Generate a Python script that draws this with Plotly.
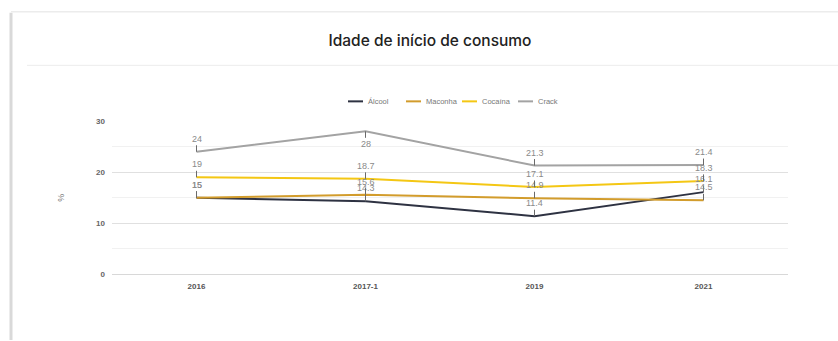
import plotly.graph_objects as go

# ---- data ----
categories = ["2016", "2017-1", "2019", "2021"]
series_names = ["Álcool", "Maconha", "Cocaína", "Crack"]
alcool = [15, 14.3, 11.4, 16.1]
maconha = [15, 15.6, 14.9, 14.5]
cocaina = [19, 18.7, 17.1, 18.3]
crack = [24, 28, 21.3, 21.4]
y_ticks = [0, 10, 20, 30]
title_text = "Idade de início de consumo"
y_title = "%"

series_values = [alcool, maconha, cocaina, crack]
colors = ["#2e3242", "#d29c2c", "#f4c714", "#a3a3a3"]

W, H = 838, 341
def px(x):
    return x / W
def py(y):
    return 1 - y / H

plot_left, plot_right = 112, 788
plot_top, plot_bottom = 120, 278
y_min, y_max = 0, 30

fig = go.Figure()
for name, vals, col in zip(series_names, series_values, colors):
    fig.add_trace(go.Scatter(
        x=categories, y=vals, name=name, mode="lines",
        line=dict(color=col, width=2), showlegend=False,
        hoverinfo="x+y+name",
    ))

annotations = []
# data labels with stems (x given as category index so numeric-looking names are not misread)
unit = (plot_bottom - plot_top) / (y_max - y_min)
for vals in series_values:
    for i, v in enumerate(vals):
        point_y = plot_bottom - (v - y_min) * unit
        off = -13
        if point_y + off - 5 < plot_top:
            off = 13
        annotations.append(dict(
            x=i, y=v, xref="x", yref="y", text=f"{v:g}",
            showarrow=True, arrowhead=0, arrowwidth=1, arrowcolor="#6a6a6a",
            ax=0, ay=off, standoff=0,
            font=dict(family="Liberation Sans, Arial", size=9, color="#8a8a8a"),
        ))

# custom legend
legend_starts = [348, 406, 462, 518]
legend_y = 100
shapes = []
for name, col, x0 in zip(series_names, colors, legend_starts):
    shapes.append(dict(type="line", xref="paper", yref="paper",
                       x0=px(x0), x1=px(x0 + 15), y0=py(legend_y), y1=py(legend_y),
                       line=dict(color=col, width=2)))
    annotations.append(dict(
        x=px(x0 + 18), y=py(legend_y), xref="paper", yref="paper",
        text=name, showarrow=False, xanchor="left", yanchor="middle",
        font=dict(family="Liberation Sans, Arial", size=7.5, color="#777777"),
    ))

# card outline / shadow and separator
shapes += [
    dict(type="line", xref="paper", yref="paper", x0=px(11), x1=px(11), y0=py(9), y1=py(345),
         line=dict(color="#d9d9d9", width=3)),
    dict(type="line", xref="paper", yref="paper", x0=px(11), x1=px(845), y0=py(8), y1=py(8),
         line=dict(color="#ececec", width=1.5)),
    dict(type="line", xref="paper", yref="paper", x0=px(27), x1=px(845), y0=py(63), y1=py(63),
         line=dict(color="#ececec", width=1)),
]

fig.update_layout(
    width=W, height=H,
    margin=dict(l=0, r=0, t=0, b=0),
    paper_bgcolor="white", plot_bgcolor="white",
    title=dict(text=title_text, x=px(430), xanchor="center", y=py(41), yanchor="middle",
               font=dict(family="Inter", size=15.5, color="#222222", weight=500)),
    shapes=shapes,
    annotations=annotations,
    xaxis=dict(
        domain=[px(plot_left), px(plot_right)], type="category",
        range=[-0.5, len(categories) - 0.5],
        showgrid=False, zeroline=False, showline=False, ticks="",
        tickfont=dict(family="Liberation Sans, Arial", size=8, color="#555555", weight="bold"),
        ticklabelstandoff=5,
        fixedrange=True,
    ),
    yaxis=dict(
        domain=[py(plot_bottom), py(plot_top)],
        range=[y_min - 0.05, y_max + 0.05], tickvals=y_ticks,
        showgrid=True, gridcolor="#e0e0e0", gridwidth=1,
        minor=dict(dtick=5, showgrid=True, gridcolor="#f1f1f1", gridwidth=1),
        zeroline=True, zerolinecolor="#d8d8d8", zerolinewidth=1,
        showline=False, ticks="",
        tickfont=dict(family="Liberation Sans, Arial", size=8, color="#666666", weight="bold"),
        ticklabelstandoff=6,
        title=dict(text=y_title, standoff=29,
                   font=dict(family="Liberation Sans, Arial", size=9, color="#777777")),
        fixedrange=True,
    ),
)

fig.write_html("out.html")
